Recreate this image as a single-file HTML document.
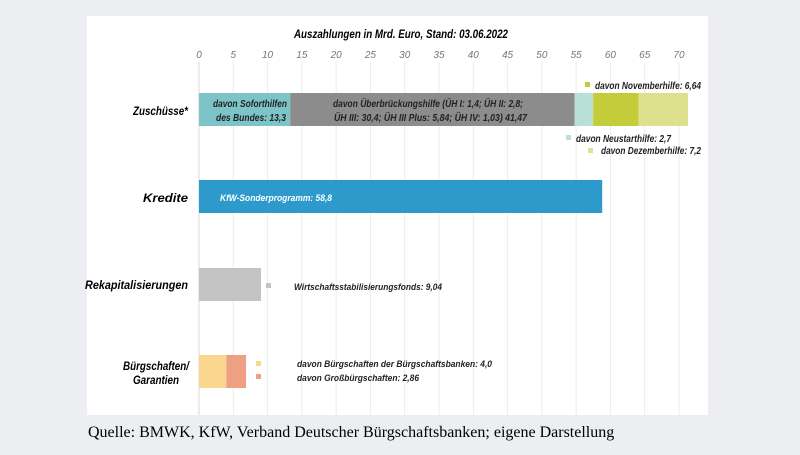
<!DOCTYPE html>
<html><head><meta charset="utf-8"><style>
body{margin:0;width:800px;height:450px;background:#eceef2;overflow:hidden;font-family:"Liberation Sans",sans-serif}
</style></head><body>
<svg width="800" height="450" id="c">
<rect x="87" y="16" width="621" height="399" fill="#fff"/>
<text x="294" y="38" textLength="214" lengthAdjust="spacingAndGlyphs" font-size="12" font-weight="bold" font-style="italic">Auszahlungen in Mrd. Euro, Stand: 03.06.2022</text>
<g id="grid"></g><g id="bars"></g>
<g font-size="12" font-weight="bold" font-style="italic" lengthAdjust="spacingAndGlyphs">
<text x="133" y="115" textLength="55" lengthAdjust="spacingAndGlyphs">Zuschüsse*</text>
<text x="143" y="202" textLength="45" lengthAdjust="spacingAndGlyphs">Kredite</text>
<text x="85" y="289" textLength="103" lengthAdjust="spacingAndGlyphs">Rekapitalisierungen</text>
<text x="123" y="370" textLength="66" lengthAdjust="spacingAndGlyphs">Bürgschaften/</text>
<text x="133" y="384" textLength="46" lengthAdjust="spacingAndGlyphs">Garantien</text>
</g>
<g font-size="10" font-weight="bold" font-style="italic" fill="#222">
<text x="213" y="107" textLength="74" lengthAdjust="spacingAndGlyphs">davon Soforthilfen</text>
<text x="216" y="121" textLength="70" lengthAdjust="spacingAndGlyphs">des Bundes: 13,3</text>
<text x="333" y="107" textLength="190" lengthAdjust="spacingAndGlyphs">davon Überbrückungshilfe (ÜH I: 1,4; ÜH II: 2,8;</text>
<text x="334" y="121" textLength="193" lengthAdjust="spacingAndGlyphs">ÜH III: 30,4; ÜH III Plus: 5,84; ÜH IV: 1,03) 41,47</text>
<rect x="585" y="82" width="5" height="5" fill="#c5cc3a"/>
<text x="595" y="89" textLength="106" lengthAdjust="spacingAndGlyphs">davon Novemberhilfe: 6,64</text>
<rect x="566" y="135" width="5" height="5" fill="#b8e0d6"/>
<text x="576" y="142" textLength="95" lengthAdjust="spacingAndGlyphs">davon Neustarthilfe: 2,7</text>
<rect x="588" y="148" width="5" height="5" fill="#dde08e"/>
<text x="601" y="154" textLength="100" lengthAdjust="spacingAndGlyphs">davon Dezemberhilfe: 7,2</text>
<text x="220" y="201" fill="#fff" font-size="9" textLength="112" lengthAdjust="spacingAndGlyphs">KfW-Sonderprogramm: 58,8</text>
<rect x="266" y="283" width="5" height="5" fill="#c4c4c4"/>
<text x="294" y="290" font-size="9" textLength="148" lengthAdjust="spacingAndGlyphs">Wirtschaftsstabilisierungsfonds: 9,04</text>
<rect x="256" y="361" width="5" height="5" fill="#fad68f"/>
<text x="297" y="367" font-size="9" textLength="195" lengthAdjust="spacingAndGlyphs">davon Bürgschaften der Bürgschaftsbanken: 4,0</text>
<rect x="256" y="374" width="5" height="5" fill="#eea083"/>
<text x="297" y="381" font-size="9" textLength="122" lengthAdjust="spacingAndGlyphs">davon Großbürgschaften: 2,86</text>
</g>
<text x="88" y="437" font-family="Liberation Serif,serif" font-size="16">Quelle: BMWK, KfW, Verband Deutscher Bürgschaftsbanken; eigene Darstellung</text>
</svg>
<script>
const ticks=[0,5,10,15,20,25,30,35,40,45,50,55,60,65,70];
const zuschuesse=[13.3,41.47,2.7,6.64,7.2];
const zuColors=["#7dc4c8","#8c8c8c","#b8e0d6","#c5cc3a","#dde08e"];
const kredite=[58.8];
const rekap=[9.04];
const buerg=[4.0,2.86];
const x=v=>199+v*6.857;
const ns="http://www.w3.org/2000/svg";
const g=document.getElementById('grid'),b=document.getElementById('bars');
ticks.forEach(t=>{
 const l=document.createElementNS(ns,'line');
 
 
 l.setAttribute('x1',x(t));l.setAttribute('x2',x(t));l.setAttribute('y1',62);l.setAttribute('y2',415);
 l.setAttribute('stroke',t===0?'#d8d8d8':'#ececec');g.appendChild(l);
 const tx=document.createElementNS(ns,'text');
 
 
 tx.setAttribute('x',x(t));tx.setAttribute('y',58);tx.setAttribute('text-anchor','middle');
 tx.setAttribute('font-size','10');tx.setAttribute('font-style','italic');tx.setAttribute('fill','#777');
 tx.textContent=t;g.appendChild(tx);
});
function stack(vals,cols,y,h,name){
 let acc=0;
 vals.forEach((v,i)=>{
  const r=document.createElementNS(ns,'rect');
  
  
  r.setAttribute('x',x(acc));r.setAttribute('width',x(acc+v)-x(acc));
  r.setAttribute('y',y);r.setAttribute('height',h);r.setAttribute('fill',cols[i]);
  b.appendChild(r);acc+=v;
 });
}
stack(zuschuesse,zuColors,93,33,'zuschuesse');
stack(kredite,["#2e9acb"],180,33,'kredite');
stack(rekap,["#c4c4c4"],268,33,'rekap');
stack(buerg,["#fad68f","#eea083"],355,33,'buergschaften');
</script>
</body></html>
